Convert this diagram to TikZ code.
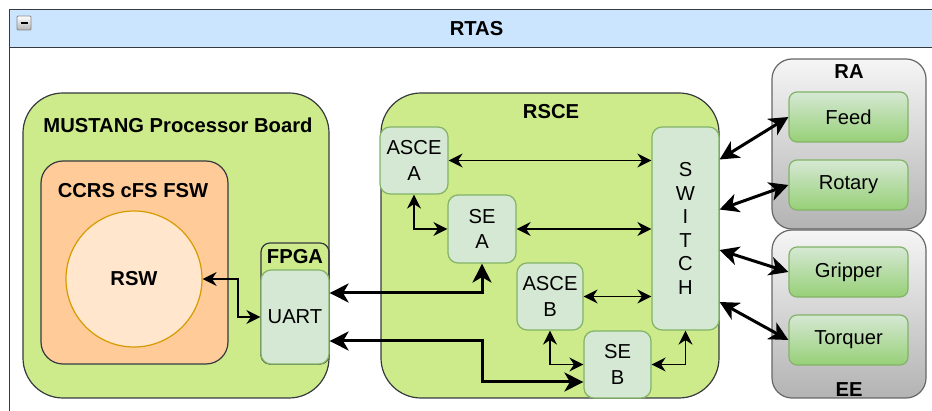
\documentclass[tikz,border=0pt]{standalone}
\usepackage{fontspec}
\setmainfont{Liberation Sans}
\usetikzlibrary{arrows.meta,calc}

\definecolor{hdrblue}{HTML}{CCE5FF}
\definecolor{edge}{HTML}{36393D}
\definecolor{boardgreen}{HTML}{CDEB8B}
\definecolor{fswfill}{HTML}{FFCC99}
\definecolor{rswfill}{HTML}{FFE6CC}
\definecolor{rswedge}{HTML}{D79B00}
\definecolor{unitfill}{HTML}{D5E8D4}
\definecolor{unitedge}{HTML}{82B366}
\definecolor{unitgrad}{HTML}{97D077}
\definecolor{grptop}{HTML}{F5F5F5}
\definecolor{grpbot}{HTML}{B3B3B3}
\definecolor{grpedge}{HTML}{666666}

\begin{document}
\begin{tikzpicture}[x=1pt,y=-1pt,
  lbl/.style={font=\fontsize{20.2}{25.5}\selectfont},
  ttl/.style={font=\fontsize{20.2}{25.5}\bfseries\selectfont, inner sep=0pt},
  board/.style={draw=edge, line width=1.2pt, fill=boardgreen, rounded corners=40pt, inner sep=0pt},
  unit/.style={lbl, draw=unitedge, line width=1.2pt, fill=unitfill, rounded corners=10pt,
    align=center, inner sep=0pt},
  grp/.style={draw=grpedge, line width=1.2pt, top color=grptop, bottom color=grpbot,
    rounded corners=20pt, inner sep=0pt, minimum width=154},
  actuator/.style={lbl, draw=unitedge, line width=1.2pt, top color=unitfill, bottom color=unitgrad,
    rounded corners=8pt, inner sep=0pt, minimum width=119, minimum height=50},
  thinarr/.style={line width=1.8pt,
    {Stealth[length=14pt,width=14pt,inset=4.5pt]}-{Stealth[length=14pt,width=14pt,inset=4.5pt]}},
  thickarr/.style={line width=3pt,
    {Stealth[length=19pt,width=19pt,inset=5.5pt]}-{Stealth[length=19pt,width=19pt,inset=5.5pt]}}
]
\useasboundingbox (0,0) rectangle (932,411);
\clip (0,0) rectangle (932,411);

% outer RTAS container with its header bar
\node[draw=edge, line width=1.2pt, fill=white, anchor=north west, minimum width=936, minimum height=430, inner sep=0pt] (rtas) at (9,9) {};
\node[draw=edge, line width=1.2pt, fill=hdrblue, anchor=north west, minimum width=936, minimum height=38, inner sep=0pt] (hdr) at (9,9) {};
\node[ttl] (rtastitle) at (476.5,29) {RTAS};
\node[draw=grpedge!80, line width=0.8pt, top color=white, bottom color=grpbot, minimum size=14, inner sep=0pt, rounded corners=1pt] (collapse) at (24,23) {};
\draw[line width=2pt] ($(collapse.center)+(-3.5,0)$) -- ($(collapse.center)+(3.5,0)$);

% processor board
\node[board, minimum width=306, minimum height=305] (mustang) at (176,245.5) {};
\node[ttl] (mustangtitle) at (178,125) {MUSTANG Processor Board};
\node[draw=edge, line width=1.2pt, fill=fswfill, rounded corners=22pt, minimum width=187, minimum height=203, inner sep=0pt] (ccrs) at (134.5,262.5) {};
\node[ttl] (ccrstitle) at (133,191) {CCRS cFS FSW};
\node[circle, draw=rswedge, line width=1.2pt, fill=rswfill, minimum size=136, inner sep=0pt, font=\fontsize{20.2}{25.5}\bfseries\selectfont] (rsw) at (134,279) {RSW};
\node[draw=edge, line width=1.2pt, rounded corners=9pt, minimum width=68, minimum height=121, inner sep=0pt] (fpga) at (295,303.5) {};
\node[ttl] (fpgatitle) at (295,257) {FPGA};
\node[unit, minimum width=68, minimum height=94] (uart) at (295,317) {UART};

% RSCE
\node[board, minimum width=338, minimum height=305] (rsce) at (550,245.5) {};
\node[ttl] (rscetitle) at (551,112) {RSCE};
\node[unit, minimum width=68, minimum height=67] (asceA) at (414,160.5) {ASCE\\A};
\node[unit, minimum width=68, minimum height=68] (seA) at (482,229) {SE\\A};
\node[unit, minimum width=66, minimum height=67] (asceB) at (550,296.5) {ASCE\\B};
\node[unit, minimum width=67, minimum height=67] (seB) at (617.5,364.5) {SE\\B};
\node[unit, minimum width=67, minimum height=203, font=\fontsize{20.2}{23.5}\selectfont] (switch) at (685.5,228.5) {S\\W\\I\\T\\C\\H};

% actuator groups
\node[grp, minimum height=170] (ra) at (849,144) {};
\node[ttl] (ratitle) at (849,72) {RA};
\node[actuator] (feed) at (848.5,117) {Feed};
\node[actuator] (rotary) at (848.5,185) {Rotary};
\node[grp, minimum height=168] (ee) at (849,314) {};
\node[ttl] (eetitle) at (849,390) {EE};
\node[actuator] (gripper) at (848.5,272) {Gripper};
\node[actuator] (torquer) at (848.5,340) {Torquer};

% thin links
\draw[thinarr] (rsw.east) -- ++(35,0) |- (uart.west);
\draw[thinarr] (asceA.east) -- (asceA.east -| switch.west);
\draw[thinarr] (seA.east) -- (seA.east -| switch.west);
\draw[thinarr] (asceB.east) -- (asceB.east -| switch.west);
\draw[thinarr] (asceA.south) |- (seA.west);
\draw[thinarr] (asceB.south) |- (seB.west);
\draw[thinarr] (switch.south) |- (seB.east);

% UART links to the serial endpoints
\coordinate (lowbend) at (482,382);
\draw[thickarr] ($(uart.east)+(0,-24)$) -| (seA.south);
\draw[thickarr] ($(uart.east)+(0,24)$) -| (lowbend) -- (lowbend -| seB.west);

% switch links to the actuators
\draw[thickarr] ($(switch.east)+(0,-69)$) -- (feed.west);
\draw[thickarr] ($(switch.east)+(0,-19)$) -- (rotary.west);
\draw[thickarr] ($(switch.east)+(0,21.5)$) -- (gripper.west);
\draw[thickarr] ($(switch.east)+(0,73.5)$) -- (torquer.west);
\end{tikzpicture}
\end{document}
